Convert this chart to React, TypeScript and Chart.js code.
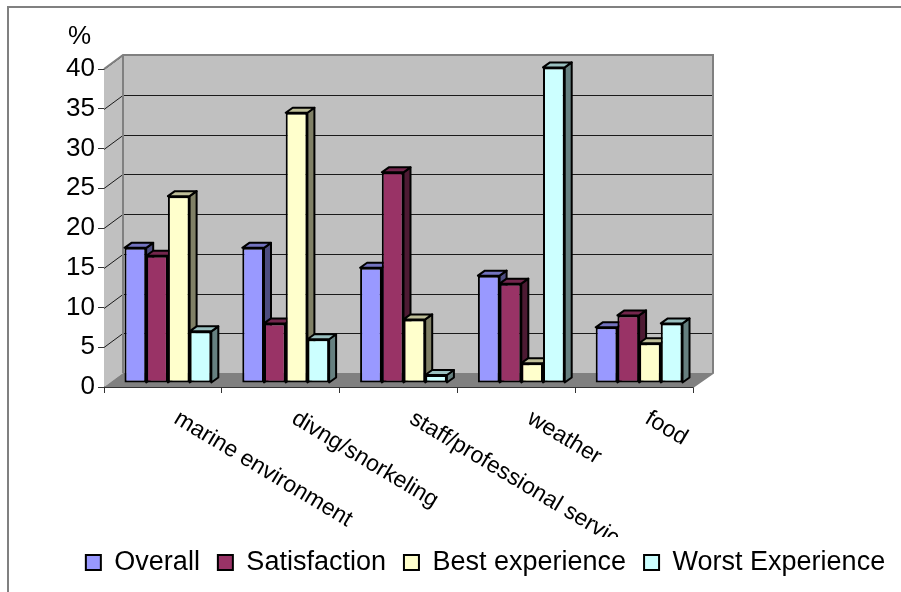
import React, { useEffect, useRef } from "react";
import { Chart, registerables } from "chart.js";

Chart.register(...registerables);

const categories = ["marine environment", "divng/snorkeling", "staff/professional service", "weather", "food"];
const overall = [17, 17, 14.5, 13.5, 7];
const satisfaction = [16, 7.5, 26.5, 12.5, 8.5];
const bestExperience = [23.5, 34, 8, 2.5, 5];
const worstExperience = [6.5, 5.5, 1, 39.7, 7.5];
const FONT = "'Liberation Sans', Arial, sans-serif";
const WALL_DX = 19, WALL_DY = 14;
const BAR_SHIFT_X = 5, BAR_SHIFT_Y = 4;
const BAR_DX = 7, BAR_DY = 5;

const shade = (hex: string, f: number) => {
  const n = parseInt(hex.slice(1), 16);
  const c = [n >> 16, (n >> 8) & 255, n & 255].map((v) => Math.round(v * f));
  return `rgb(${c[0]},${c[1]},${c[2]})`;
};
const poly = (ctx: CanvasRenderingContext2D, pts: number[][], fill: string, stroke?: string, lw = 1) => {
  ctx.beginPath();
  pts.forEach((p, i) => (i ? ctx.lineTo(p[0], p[1]) : ctx.moveTo(p[0], p[1])));
  ctx.closePath();
  ctx.fillStyle = fill;
  ctx.fill();
  if (stroke) {
    ctx.strokeStyle = stroke;
    ctx.lineWidth = lw;
    ctx.stroke();
  }
};

const scenePlugin = {
  id: "scene",
  afterLayout(chart: any) {
    const lg = chart.legend;
    lg.left = 20;
    lg.right = 951;
    const h = lg.bottom - lg.top;
    lg.top = 531;
    lg.bottom = 531 + h;
  },
  beforeDraw(chart: any) {
    const { ctx } = chart;
    ctx.save();
    ctx.strokeStyle = "#808080";
    ctx.lineWidth = 2;
    ctx.beginPath();
    ctx.moveTo(8, 592);
    ctx.lineTo(8, 7);
    ctx.lineTo(901, 7);
    ctx.stroke();
    ctx.restore();
  },
  beforeDatasetsDraw(chart: any) {
    const { ctx, chartArea: a, scales } = chart;
    const y = scales.y;
    ctx.save();
    const bx0 = a.left + WALL_DX, bx1 = a.right + WALL_DX + 1;
    const by0 = a.top - WALL_DY, by1 = a.bottom - WALL_DY;
    poly(ctx, [[a.left, a.top], [bx0, by0], [bx0, by1], [a.left, a.bottom]], "#c0c0c0");
    poly(ctx, [[bx0, by0], [bx1, by0], [bx1, by1], [bx0, by1]], "#c0c0c0");
    ctx.strokeStyle = "#1a1a1a";
    ctx.lineWidth = 1;
    y.ticks.forEach((t: any) => {
      if (t.value === 0) return;
      const py = Math.round(y.getPixelForValue(t.value)) + 0.5;
      ctx.beginPath();
      ctx.moveTo(a.left, py);
      ctx.lineTo(bx0, py - WALL_DY);
      ctx.lineTo(bx1, py - WALL_DY);
      ctx.stroke();
    });
    poly(ctx, [[a.left, a.bottom], [bx0, by1], [bx1, by1], [a.right, a.bottom]], "#808080");
    ctx.strokeStyle = "#808080";
    ctx.lineWidth = 2;
    ctx.beginPath();
    ctx.moveTo(a.left, a.top);
    ctx.lineTo(bx0, by0);
    ctx.lineTo(bx1, by0);
    ctx.lineTo(bx1, by1);
    ctx.lineTo(a.right, a.bottom);
    ctx.moveTo(bx0, by0);
    ctx.lineTo(bx0, by1);
    ctx.stroke();
    ctx.restore();
    // Draw datasets first to last so each bar's front covers its left neighbour's side face.
    chart.data.datasets.forEach((ds: any, index: number) => {
      const meta = chart.getDatasetMeta(index);
      ctx.save();
      ctx.translate(BAR_SHIFT_X, -BAR_SHIFT_Y);
      ctx.lineJoin = "round";
      meta.data.forEach((b: any) => {
        const l = b.x - b.width / 2, r = b.x + b.width / 2;
        poly(ctx, [[r, b.y], [r + BAR_DX, b.y - BAR_DY], [r + BAR_DX, b.base - BAR_DY], [r, b.base]], shade(ds.backgroundColor, 0.5), "#000", 2);
        poly(ctx, [[l, b.y], [l + BAR_DX, b.y - BAR_DY], [r + BAR_DX, b.y - BAR_DY], [r, b.y]], shade(ds.backgroundColor, 0.75), "#000", 2);
      });
      meta.controller.draw();
      ctx.restore();
    });
    return false;
  },
  afterDraw(chart: any) {
    const { ctx, chartArea: a } = chart;
    ctx.save();
    ctx.fillStyle = "#000";
    ctx.font = `26px ${FONT}`;
    ctx.textAlign = "left";
    ctx.textBaseline = "alphabetic";
    ctx.fillText("%", a.left - 36, 44);
    ctx.fillStyle = "#fff";
    ctx.fillRect(a.left, 538, a.right - a.left, 9);
    ctx.restore();
  },
};

export default function App() {
  const ref = useRef<HTMLCanvasElement>(null);
  useEffect(() => {
    const mk = (label: string, data: number[], color: string) => ({
      label,
      data,
      backgroundColor: color,
      borderColor: "#000",
      borderWidth: 2,
      borderSkipped: false,
      categoryPercentage: 0.737,
      barPercentage: 1,
    });
    const chart = new Chart(ref.current!, {
      type: "bar",
      data: {
        labels: categories,
        datasets: [
          mk("Overall", overall, "#9999FF"),
          mk("Satisfaction", satisfaction, "#993366"),
          mk("Best experience", bestExperience, "#FFFFCC"),
          mk("Worst Experience", worstExperience, "#CCFFFF"),
        ],
      },
      options: {
        responsive: false,
        animation: false,
        devicePixelRatio: 1,
        layout: { padding: { top: 69, left: 0, right: 0, bottom: 0 } },
        plugins: {
          tooltip: { enabled: false },
          legend: {
            position: "bottom",
            labels: { color: "#000", font: { family: FONT, size: 27 }, boxWidth: 15, boxHeight: 15, padding: 18 },
          },
        },
        scales: {
          x: {
            grid: { drawOnChartArea: false, offset: true, tickLength: 6, color: "#333" },
            border: { color: "#333" },
            ticks: {
              autoSkip: false,
              minRotation: -31,
              maxRotation: -31,
              padding: 12,
              labelOffset: 13,
              color: "#000",
              font: { family: FONT, size: 23 },
            },
            afterDataLimits(s: any) {
              s._getXAxisLabelAlignment = () => "left";
            },
            afterFit(s: any) {
              s.paddingLeft = 0;
              s.paddingRight = 0;
              s.height = 592 - 387 - (s.chart.legend ? s.chart.legend.height : 0);
            },
          },
          y: {
            min: 0,
            max: 40,
            grid: { drawOnChartArea: false, tickLength: 6, color: "#333" },
            border: { color: "#333" },
            ticks: { stepSize: 5, padding: 3, color: "#000", font: { family: FONT, size: 26 } },
            afterFit(s: any) {
              s.paddingTop = 0;
              s.paddingBottom = 0;
              s.width = 104;
            },
          },
          spacer: {
            position: "right",
            grid: { display: false },
            border: { display: false },
            ticks: { display: false },
            afterFit(s: any) {
              s.width = 208;
            },
          },
        },
      },
      plugins: [scenePlugin],
    } as any);
    return () => chart.destroy();
  }, []);
  return (
    <canvas
      ref={ref}
      width={901}
      height={592}
      style={{ position: "absolute", left: 0, top: 0, width: 901, height: 592, display: "block" }}
    />
  );
}
